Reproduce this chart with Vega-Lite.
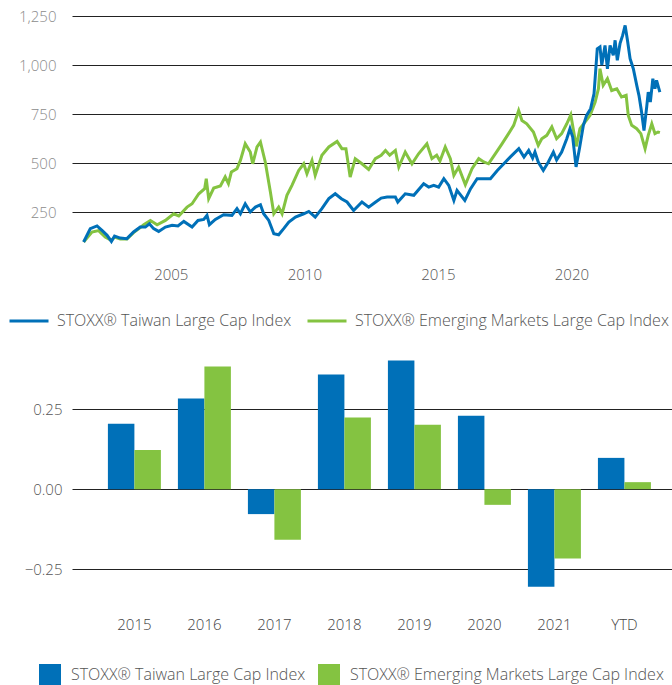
{
  "$schema": "https://vega.github.io/schema/vega-lite/v6.json",
  "autosize": {"type": "pad"},
  "padding": {"left": 0, "top": 9, "right": 0, "bottom": 0},
  "background": "white",
  "bounds": "flush",
  "spacing": 94,
  "resolve": {"scale": {"color": "independent"}, "legend": {"color": "independent"}},
  "config": {
    "view": {"stroke": null},
    "font": "Open Sans",
    "axis": {
      "labelFont": "Open Sans",
      "labelFontSize": 15,
      "labelFontWeight": 300,
      "domain": false,
      "ticks": false,
      "title": null,
      "gridColor": "#222222",
      "gridWidth": 1,
      "gridOpacity": 1
    },
    "legend": {
      "labelFont": "Open Sans",
      "labelFontSize": 16,
      "labelFontWeight": 300,
      "labelColor": "#555555",
      "labelLimit": 400,
      "title": null,
      "padding": 0
    }
  },
  "datasets": {
    "lines": [
      {"date": "2001-09-27", "series": "STOXX® Emerging Markets Large Cap Index", "value": 97},
      {"date": "2002-01-19", "series": "STOXX® Emerging Markets Large Cap Index", "value": 148},
      {"date": "2002-04-20", "series": "STOXX® Emerging Markets Large Cap Index", "value": 155},
      {"date": "2002-07-19", "series": "STOXX® Emerging Markets Large Cap Index", "value": 122},
      {"date": "2002-10-12", "series": "STOXX® Emerging Markets Large Cap Index", "value": 105},
      {"date": "2002-11-24", "series": "STOXX® Emerging Markets Large Cap Index", "value": 122},
      {"date": "2003-02-10", "series": "STOXX® Emerging Markets Large Cap Index", "value": 112},
      {"date": "2003-05-12", "series": "STOXX® Emerging Markets Large Cap Index", "value": 112},
      {"date": "2003-08-11", "series": "STOXX® Emerging Markets Large Cap Index", "value": 145},
      {"date": "2003-11-10", "series": "STOXX® Emerging Markets Large Cap Index", "value": 170},
      {"date": "2003-12-28", "series": "STOXX® Emerging Markets Large Cap Index", "value": 185},
      {"date": "2004-03-28", "series": "STOXX® Emerging Markets Large Cap Index", "value": 207},
      {"date": "2004-06-28", "series": "STOXX® Emerging Markets Large Cap Index", "value": 185},
      {"date": "2004-10-19", "series": "STOXX® Emerging Markets Large Cap Index", "value": 207},
      {"date": "2005-02-10", "series": "STOXX® Emerging Markets Large Cap Index", "value": 241},
      {"date": "2005-04-20", "series": "STOXX® Emerging Markets Large Cap Index", "value": 230},
      {"date": "2005-08-11", "series": "STOXX® Emerging Markets Large Cap Index", "value": 275},
      {"date": "2005-10-19", "series": "STOXX® Emerging Markets Large Cap Index", "value": 292},
      {"date": "2006-01-19", "series": "STOXX® Emerging Markets Large Cap Index", "value": 343},
      {"date": "2006-04-09", "series": "STOXX® Emerging Markets Large Cap Index", "value": 369},
      {"date": "2006-05-01", "series": "STOXX® Emerging Markets Large Cap Index", "value": 420},
      {"date": "2006-06-03", "series": "STOXX® Emerging Markets Large Cap Index", "value": 318},
      {"date": "2006-08-11", "series": "STOXX® Emerging Markets Large Cap Index", "value": 372},
      {"date": "2006-11-10", "series": "STOXX® Emerging Markets Large Cap Index", "value": 383},
      {"date": "2007-01-15", "series": "STOXX® Emerging Markets Large Cap Index", "value": 429},
      {"date": "2007-02-28", "series": "STOXX® Emerging Markets Large Cap Index", "value": 395},
      {"date": "2007-04-09", "series": "STOXX® Emerging Markets Large Cap Index", "value": 454},
      {"date": "2007-06-25", "series": "STOXX® Emerging Markets Large Cap Index", "value": 471},
      {"date": "2007-08-11", "series": "STOXX® Emerging Markets Large Cap Index", "value": 513},
      {"date": "2007-10-16", "series": "STOXX® Emerging Markets Large Cap Index", "value": 598},
      {"date": "2007-12-24", "series": "STOXX® Emerging Markets Large Cap Index", "value": 556},
      {"date": "2008-01-26", "series": "STOXX® Emerging Markets Large Cap Index", "value": 496},
      {"date": "2008-03-25", "series": "STOXX® Emerging Markets Large Cap Index", "value": 582},
      {"date": "2008-05-11", "series": "STOXX® Emerging Markets Large Cap Index", "value": 607},
      {"date": "2008-07-16", "series": "STOXX® Emerging Markets Large Cap Index", "value": 505},
      {"date": "2008-09-24", "series": "STOXX® Emerging Markets Large Cap Index", "value": 352},
      {"date": "2008-11-10", "series": "STOXX® Emerging Markets Large Cap Index", "value": 241},
      {"date": "2009-01-15", "series": "STOXX® Emerging Markets Large Cap Index", "value": 275},
      {"date": "2009-03-03", "series": "STOXX® Emerging Markets Large Cap Index", "value": 241},
      {"date": "2009-05-08", "series": "STOXX® Emerging Markets Large Cap Index", "value": 335},
      {"date": "2009-07-16", "series": "STOXX® Emerging Markets Large Cap Index", "value": 386},
      {"date": "2009-10-16", "series": "STOXX® Emerging Markets Large Cap Index", "value": 462},
      {"date": "2009-12-24", "series": "STOXX® Emerging Markets Large Cap Index", "value": 496},
      {"date": "2010-02-06", "series": "STOXX® Emerging Markets Large Cap Index", "value": 445},
      {"date": "2010-04-16", "series": "STOXX® Emerging Markets Large Cap Index", "value": 513},
      {"date": "2010-05-30", "series": "STOXX® Emerging Markets Large Cap Index", "value": 437},
      {"date": "2010-08-29", "series": "STOXX® Emerging Markets Large Cap Index", "value": 539},
      {"date": "2010-12-02", "series": "STOXX® Emerging Markets Large Cap Index", "value": 582},
      {"date": "2011-03-25", "series": "STOXX® Emerging Markets Large Cap Index", "value": 610},
      {"date": "2011-05-30", "series": "STOXX® Emerging Markets Large Cap Index", "value": 573},
      {"date": "2011-07-24", "series": "STOXX® Emerging Markets Large Cap Index", "value": 573},
      {"date": "2011-09-20", "series": "STOXX® Emerging Markets Large Cap Index", "value": 428},
      {"date": "2011-11-28", "series": "STOXX® Emerging Markets Large Cap Index", "value": 522},
      {"date": "2012-02-28", "series": "STOXX® Emerging Markets Large Cap Index", "value": 496},
      {"date": "2012-05-30", "series": "STOXX® Emerging Markets Large Cap Index", "value": 467},
      {"date": "2012-08-29", "series": "STOXX® Emerging Markets Large Cap Index", "value": 522},
      {"date": "2012-11-17", "series": "STOXX® Emerging Markets Large Cap Index", "value": 539},
      {"date": "2013-01-15", "series": "STOXX® Emerging Markets Large Cap Index", "value": 564},
      {"date": "2013-03-14", "series": "STOXX® Emerging Markets Large Cap Index", "value": 540},
      {"date": "2013-05-30", "series": "STOXX® Emerging Markets Large Cap Index", "value": 564},
      {"date": "2013-07-16", "series": "STOXX® Emerging Markets Large Cap Index", "value": 479},
      {"date": "2013-10-12", "series": "STOXX® Emerging Markets Large Cap Index", "value": 556},
      {"date": "2014-01-12", "series": "STOXX® Emerging Markets Large Cap Index", "value": 496},
      {"date": "2014-04-12", "series": "STOXX® Emerging Markets Large Cap Index", "value": 547},
      {"date": "2014-08-04", "series": "STOXX® Emerging Markets Large Cap Index", "value": 598},
      {"date": "2014-10-12", "series": "STOXX® Emerging Markets Large Cap Index", "value": 522},
      {"date": "2014-12-16", "series": "STOXX® Emerging Markets Large Cap Index", "value": 540},
      {"date": "2015-01-30", "series": "STOXX® Emerging Markets Large Cap Index", "value": 510},
      {"date": "2015-04-12", "series": "STOXX® Emerging Markets Large Cap Index", "value": 582},
      {"date": "2015-06-21", "series": "STOXX® Emerging Markets Large Cap Index", "value": 522},
      {"date": "2015-08-08", "series": "STOXX® Emerging Markets Large Cap Index", "value": 437},
      {"date": "2015-10-12", "series": "STOXX® Emerging Markets Large Cap Index", "value": 479},
      {"date": "2016-01-12", "series": "STOXX® Emerging Markets Large Cap Index", "value": 389},
      {"date": "2016-04-12", "series": "STOXX® Emerging Markets Large Cap Index", "value": 471},
      {"date": "2016-07-13", "series": "STOXX® Emerging Markets Large Cap Index", "value": 522},
      {"date": "2016-09-20", "series": "STOXX® Emerging Markets Large Cap Index", "value": 505},
      {"date": "2016-11-24", "series": "STOXX® Emerging Markets Large Cap Index", "value": 496},
      {"date": "2017-02-24", "series": "STOXX® Emerging Markets Large Cap Index", "value": 547},
      {"date": "2017-05-27", "series": "STOXX® Emerging Markets Large Cap Index", "value": 598},
      {"date": "2017-08-25", "series": "STOXX® Emerging Markets Large Cap Index", "value": 650},
      {"date": "2017-11-03", "series": "STOXX® Emerging Markets Large Cap Index", "value": 692},
      {"date": "2018-01-10", "series": "STOXX® Emerging Markets Large Cap Index", "value": 768},
      {"date": "2018-02-24", "series": "STOXX® Emerging Markets Large Cap Index", "value": 717},
      {"date": "2018-05-01", "series": "STOXX® Emerging Markets Large Cap Index", "value": 700},
      {"date": "2018-07-31", "series": "STOXX® Emerging Markets Large Cap Index", "value": 658},
      {"date": "2018-10-05", "series": "STOXX® Emerging Markets Large Cap Index", "value": 590},
      {"date": "2018-11-22", "series": "STOXX® Emerging Markets Large Cap Index", "value": 624},
      {"date": "2019-01-30", "series": "STOXX® Emerging Markets Large Cap Index", "value": 641},
      {"date": "2019-04-09", "series": "STOXX® Emerging Markets Large Cap Index", "value": 684},
      {"date": "2019-06-13", "series": "STOXX® Emerging Markets Large Cap Index", "value": 624},
      {"date": "2019-08-21", "series": "STOXX® Emerging Markets Large Cap Index", "value": 650},
      {"date": "2019-10-30", "series": "STOXX® Emerging Markets Large Cap Index", "value": 700},
      {"date": "2019-12-24", "series": "STOXX® Emerging Markets Large Cap Index", "value": 746},
      {"date": "2020-01-30", "series": "STOXX® Emerging Markets Large Cap Index", "value": 666},
      {"date": "2020-03-08", "series": "STOXX® Emerging Markets Large Cap Index", "value": 585},
      {"date": "2020-04-27", "series": "STOXX® Emerging Markets Large Cap Index", "value": 675},
      {"date": "2020-07-05", "series": "STOXX® Emerging Markets Large Cap Index", "value": 709},
      {"date": "2020-09-13", "series": "STOXX® Emerging Markets Large Cap Index", "value": 743},
      {"date": "2020-11-21", "series": "STOXX® Emerging Markets Large Cap Index", "value": 811},
      {"date": "2021-01-05", "series": "STOXX® Emerging Markets Large Cap Index", "value": 879},
      {"date": "2021-01-26", "series": "STOXX® Emerging Markets Large Cap Index", "value": 981},
      {"date": "2021-03-11", "series": "STOXX® Emerging Markets Large Cap Index", "value": 896},
      {"date": "2021-05-08", "series": "STOXX® Emerging Markets Large Cap Index", "value": 930},
      {"date": "2021-07-05", "series": "STOXX® Emerging Markets Large Cap Index", "value": 870},
      {"date": "2021-09-13", "series": "STOXX® Emerging Markets Large Cap Index", "value": 879},
      {"date": "2021-11-17", "series": "STOXX® Emerging Markets Large Cap Index", "value": 837},
      {"date": "2022-01-19", "series": "STOXX® Emerging Markets Large Cap Index", "value": 845},
      {"date": "2022-02-17", "series": "STOXX® Emerging Markets Large Cap Index", "value": 743},
      {"date": "2022-04-05", "series": "STOXX® Emerging Markets Large Cap Index", "value": 692},
      {"date": "2022-06-13", "series": "STOXX® Emerging Markets Large Cap Index", "value": 675},
      {"date": "2022-08-08", "series": "STOXX® Emerging Markets Large Cap Index", "value": 650},
      {"date": "2022-10-05", "series": "STOXX® Emerging Markets Large Cap Index", "value": 573},
      {"date": "2022-11-17", "series": "STOXX® Emerging Markets Large Cap Index", "value": 641},
      {"date": "2023-01-05", "series": "STOXX® Emerging Markets Large Cap Index", "value": 700},
      {"date": "2023-02-17", "series": "STOXX® Emerging Markets Large Cap Index", "value": 650},
      {"date": "2023-04-01", "series": "STOXX® Emerging Markets Large Cap Index", "value": 658},
      {"date": "2023-04-25", "series": "STOXX® Emerging Markets Large Cap Index", "value": 655},
      {"date": "2001-09-27", "series": "STOXX® Taiwan Large Cap Index", "value": 97},
      {"date": "2001-12-27", "series": "STOXX® Taiwan Large Cap Index", "value": 165},
      {"date": "2002-03-29", "series": "STOXX® Taiwan Large Cap Index", "value": 179},
      {"date": "2002-06-05", "series": "STOXX® Taiwan Large Cap Index", "value": 156},
      {"date": "2002-08-14", "series": "STOXX® Taiwan Large Cap Index", "value": 131},
      {"date": "2002-10-12", "series": "STOXX® Taiwan Large Cap Index", "value": 100},
      {"date": "2002-11-24", "series": "STOXX® Taiwan Large Cap Index", "value": 127},
      {"date": "2003-02-10", "series": "STOXX® Taiwan Large Cap Index", "value": 117},
      {"date": "2003-05-12", "series": "STOXX® Taiwan Large Cap Index", "value": 114},
      {"date": "2003-08-11", "series": "STOXX® Taiwan Large Cap Index", "value": 148},
      {"date": "2003-11-10", "series": "STOXX® Taiwan Large Cap Index", "value": 173},
      {"date": "2004-01-19", "series": "STOXX® Taiwan Large Cap Index", "value": 173},
      {"date": "2004-03-14", "series": "STOXX® Taiwan Large Cap Index", "value": 190},
      {"date": "2004-05-11", "series": "STOXX® Taiwan Large Cap Index", "value": 165},
      {"date": "2004-07-19", "series": "STOXX® Taiwan Large Cap Index", "value": 151},
      {"date": "2004-10-19", "series": "STOXX® Taiwan Large Cap Index", "value": 173},
      {"date": "2005-01-19", "series": "STOXX® Taiwan Large Cap Index", "value": 182},
      {"date": "2005-04-09", "series": "STOXX® Taiwan Large Cap Index", "value": 179},
      {"date": "2005-06-28", "series": "STOXX® Taiwan Large Cap Index", "value": 202},
      {"date": "2005-10-19", "series": "STOXX® Taiwan Large Cap Index", "value": 173},
      {"date": "2006-01-08", "series": "STOXX® Taiwan Large Cap Index", "value": 207},
      {"date": "2006-03-28", "series": "STOXX® Taiwan Large Cap Index", "value": 212},
      {"date": "2006-05-11", "series": "STOXX® Taiwan Large Cap Index", "value": 233},
      {"date": "2006-06-13", "series": "STOXX® Taiwan Large Cap Index", "value": 185},
      {"date": "2006-09-02", "series": "STOXX® Taiwan Large Cap Index", "value": 212},
      {"date": "2006-12-24", "series": "STOXX® Taiwan Large Cap Index", "value": 236},
      {"date": "2007-04-17", "series": "STOXX® Taiwan Large Cap Index", "value": 233},
      {"date": "2007-06-25", "series": "STOXX® Taiwan Large Cap Index", "value": 267},
      {"date": "2007-08-11", "series": "STOXX® Taiwan Large Cap Index", "value": 241},
      {"date": "2007-10-16", "series": "STOXX® Taiwan Large Cap Index", "value": 292},
      {"date": "2007-12-24", "series": "STOXX® Taiwan Large Cap Index", "value": 250},
      {"date": "2008-03-03", "series": "STOXX® Taiwan Large Cap Index", "value": 275},
      {"date": "2008-05-11", "series": "STOXX® Taiwan Large Cap Index", "value": 287},
      {"date": "2008-06-24", "series": "STOXX® Taiwan Large Cap Index", "value": 241},
      {"date": "2008-09-02", "series": "STOXX® Taiwan Large Cap Index", "value": 207},
      {"date": "2008-11-10", "series": "STOXX® Taiwan Large Cap Index", "value": 139},
      {"date": "2009-01-15", "series": "STOXX® Taiwan Large Cap Index", "value": 134},
      {"date": "2009-03-25", "series": "STOXX® Taiwan Large Cap Index", "value": 165},
      {"date": "2009-06-03", "series": "STOXX® Taiwan Large Cap Index", "value": 199},
      {"date": "2009-09-02", "series": "STOXX® Taiwan Large Cap Index", "value": 224},
      {"date": "2009-12-24", "series": "STOXX® Taiwan Large Cap Index", "value": 241},
      {"date": "2010-03-03", "series": "STOXX® Taiwan Large Cap Index", "value": 253},
      {"date": "2010-05-30", "series": "STOXX® Taiwan Large Cap Index", "value": 224},
      {"date": "2010-08-29", "series": "STOXX® Taiwan Large Cap Index", "value": 267},
      {"date": "2010-12-02", "series": "STOXX® Taiwan Large Cap Index", "value": 318},
      {"date": "2011-02-28", "series": "STOXX® Taiwan Large Cap Index", "value": 343},
      {"date": "2011-05-23", "series": "STOXX® Taiwan Large Cap Index", "value": 318},
      {"date": "2011-08-08", "series": "STOXX® Taiwan Large Cap Index", "value": 301},
      {"date": "2011-11-06", "series": "STOXX® Taiwan Large Cap Index", "value": 258},
      {"date": "2012-02-28", "series": "STOXX® Taiwan Large Cap Index", "value": 301},
      {"date": "2012-05-30", "series": "STOXX® Taiwan Large Cap Index", "value": 275},
      {"date": "2012-08-29", "series": "STOXX® Taiwan Large Cap Index", "value": 300},
      {"date": "2012-11-17", "series": "STOXX® Taiwan Large Cap Index", "value": 321},
      {"date": "2013-02-06", "series": "STOXX® Taiwan Large Cap Index", "value": 326},
      {"date": "2013-05-30", "series": "STOXX® Taiwan Large Cap Index", "value": 326},
      {"date": "2013-07-02", "series": "STOXX® Taiwan Large Cap Index", "value": 301},
      {"date": "2013-10-12", "series": "STOXX® Taiwan Large Cap Index", "value": 343},
      {"date": "2014-02-06", "series": "STOXX® Taiwan Large Cap Index", "value": 335},
      {"date": "2014-06-21", "series": "STOXX® Taiwan Large Cap Index", "value": 394},
      {"date": "2014-08-29", "series": "STOXX® Taiwan Large Cap Index", "value": 377},
      {"date": "2014-11-06", "series": "STOXX® Taiwan Large Cap Index", "value": 386},
      {"date": "2015-01-12", "series": "STOXX® Taiwan Large Cap Index", "value": 377},
      {"date": "2015-03-24", "series": "STOXX® Taiwan Large Cap Index", "value": 420},
      {"date": "2015-05-30", "series": "STOXX® Taiwan Large Cap Index", "value": 386},
      {"date": "2015-08-08", "series": "STOXX® Taiwan Large Cap Index", "value": 309},
      {"date": "2015-09-20", "series": "STOXX® Taiwan Large Cap Index", "value": 360},
      {"date": "2016-01-05", "series": "STOXX® Taiwan Large Cap Index", "value": 309},
      {"date": "2016-03-24", "series": "STOXX® Taiwan Large Cap Index", "value": 369},
      {"date": "2016-06-21", "series": "STOXX® Taiwan Large Cap Index", "value": 420},
      {"date": "2016-09-20", "series": "STOXX® Taiwan Large Cap Index", "value": 420},
      {"date": "2016-12-20", "series": "STOXX® Taiwan Large Cap Index", "value": 420},
      {"date": "2017-03-24", "series": "STOXX® Taiwan Large Cap Index", "value": 462},
      {"date": "2017-06-21", "series": "STOXX® Taiwan Large Cap Index", "value": 496},
      {"date": "2017-09-16", "series": "STOXX® Taiwan Large Cap Index", "value": 530},
      {"date": "2018-01-12", "series": "STOXX® Taiwan Large Cap Index", "value": 573},
      {"date": "2018-03-24", "series": "STOXX® Taiwan Large Cap Index", "value": 530},
      {"date": "2018-05-27", "series": "STOXX® Taiwan Large Cap Index", "value": 564},
      {"date": "2018-07-20", "series": "STOXX® Taiwan Large Cap Index", "value": 525},
      {"date": "2018-08-21", "series": "STOXX® Taiwan Large Cap Index", "value": 556},
      {"date": "2018-10-05", "series": "STOXX® Taiwan Large Cap Index", "value": 505},
      {"date": "2018-12-13", "series": "STOXX® Taiwan Large Cap Index", "value": 462},
      {"date": "2019-02-20", "series": "STOXX® Taiwan Large Cap Index", "value": 505},
      {"date": "2019-04-30", "series": "STOXX® Taiwan Large Cap Index", "value": 556},
      {"date": "2019-06-13", "series": "STOXX® Taiwan Large Cap Index", "value": 515},
      {"date": "2019-08-21", "series": "STOXX® Taiwan Large Cap Index", "value": 556},
      {"date": "2019-10-30", "series": "STOXX® Taiwan Large Cap Index", "value": 624},
      {"date": "2019-12-13", "series": "STOXX® Taiwan Large Cap Index", "value": 675},
      {"date": "2020-01-19", "series": "STOXX® Taiwan Large Cap Index", "value": 632},
      {"date": "2020-03-05", "series": "STOXX® Taiwan Large Cap Index", "value": 480},
      {"date": "2020-04-20", "series": "STOXX® Taiwan Large Cap Index", "value": 573},
      {"date": "2020-06-13", "series": "STOXX® Taiwan Large Cap Index", "value": 692},
      {"date": "2020-07-27", "series": "STOXX® Taiwan Large Cap Index", "value": 743},
      {"date": "2020-09-20", "series": "STOXX® Taiwan Large Cap Index", "value": 777},
      {"date": "2020-11-06", "series": "STOXX® Taiwan Large Cap Index", "value": 854},
      {"date": "2020-12-20", "series": "STOXX® Taiwan Large Cap Index", "value": 1083},
      {"date": "2021-01-26", "series": "STOXX® Taiwan Large Cap Index", "value": 1092},
      {"date": "2021-02-20", "series": "STOXX® Taiwan Large Cap Index", "value": 1000},
      {"date": "2021-04-05", "series": "STOXX® Taiwan Large Cap Index", "value": 1100},
      {"date": "2021-05-08", "series": "STOXX® Taiwan Large Cap Index", "value": 981},
      {"date": "2021-06-13", "series": "STOXX® Taiwan Large Cap Index", "value": 1100},
      {"date": "2021-07-27", "series": "STOXX® Taiwan Large Cap Index", "value": 1049},
      {"date": "2021-08-21", "series": "STOXX® Taiwan Large Cap Index", "value": 1126},
      {"date": "2021-09-20", "series": "STOXX® Taiwan Large Cap Index", "value": 1024},
      {"date": "2021-10-27", "series": "STOXX® Taiwan Large Cap Index", "value": 1109},
      {"date": "2021-12-02", "series": "STOXX® Taiwan Large Cap Index", "value": 1151},
      {"date": "2022-01-05", "series": "STOXX® Taiwan Large Cap Index", "value": 1202},
      {"date": "2022-02-06", "series": "STOXX® Taiwan Large Cap Index", "value": 1126},
      {"date": "2022-03-14", "series": "STOXX® Taiwan Large Cap Index", "value": 1032},
      {"date": "2022-04-27", "series": "STOXX® Taiwan Large Cap Index", "value": 981},
      {"date": "2022-06-13", "series": "STOXX® Taiwan Large Cap Index", "value": 896},
      {"date": "2022-07-13", "series": "STOXX® Taiwan Large Cap Index", "value": 845},
      {"date": "2022-08-18", "series": "STOXX® Taiwan Large Cap Index", "value": 760},
      {"date": "2022-09-20", "series": "STOXX® Taiwan Large Cap Index", "value": 666},
      {"date": "2022-10-27", "series": "STOXX® Taiwan Large Cap Index", "value": 786},
      {"date": "2022-11-17", "series": "STOXX® Taiwan Large Cap Index", "value": 862},
      {"date": "2022-12-16", "series": "STOXX® Taiwan Large Cap Index", "value": 811},
      {"date": "2023-01-19", "series": "STOXX® Taiwan Large Cap Index", "value": 930},
      {"date": "2023-02-17", "series": "STOXX® Taiwan Large Cap Index", "value": 879},
      {"date": "2023-03-11", "series": "STOXX® Taiwan Large Cap Index", "value": 922},
      {"date": "2023-04-25", "series": "STOXX® Taiwan Large Cap Index", "value": 862}
    ],
    "bars": [
      {"period": "2015", "series": "STOXX® Taiwan Large Cap Index", "ret": 0.205},
      {"period": "2015", "series": "STOXX® Emerging Markets Large Cap Index", "ret": 0.123},
      {"period": "2016", "series": "STOXX® Taiwan Large Cap Index", "ret": 0.284},
      {"period": "2016", "series": "STOXX® Emerging Markets Large Cap Index", "ret": 0.384},
      {"period": "2017", "series": "STOXX® Taiwan Large Cap Index", "ret": -0.078},
      {"period": "2017", "series": "STOXX® Emerging Markets Large Cap Index", "ret": -0.158},
      {"period": "2018", "series": "STOXX® Taiwan Large Cap Index", "ret": 0.359},
      {"period": "2018", "series": "STOXX® Emerging Markets Large Cap Index", "ret": 0.224},
      {"period": "2019", "series": "STOXX® Taiwan Large Cap Index", "ret": 0.403},
      {"period": "2019", "series": "STOXX® Emerging Markets Large Cap Index", "ret": 0.202},
      {"period": "2020", "series": "STOXX® Taiwan Large Cap Index", "ret": 0.23},
      {"period": "2020", "series": "STOXX® Emerging Markets Large Cap Index", "ret": -0.049},
      {"period": "2021", "series": "STOXX® Taiwan Large Cap Index", "ret": -0.305},
      {"period": "2021", "series": "STOXX® Emerging Markets Large Cap Index", "ret": -0.217},
      {"period": "YTD", "series": "STOXX® Taiwan Large Cap Index", "ret": 0.098},
      {"period": "YTD", "series": "STOXX® Emerging Markets Large Cap Index", "ret": 0.022}
    ]
  },
  "vconcat": [
    {
      "width": 600,
      "height": 245,
      "data": {"name": "lines"},
      "mark": {"type": "line", "strokeWidth": 3, "interpolate": "linear"},
      "encoding": {
        "x": {
          "field": "date",
          "type": "temporal",
          "scale": {"domain": [{"year": 2001, "month": 4, "date": 21}, {"year": 2023, "month": 10, "date": 8}]},
          "axis": {
            "values": [{"year": 2005}, {"year": 2010}, {"year": 2015}, {"year": 2020}],
            "format": "%Y",
            "grid": false,
            "labelColor": "#555555",
            "labelPadding": 6
          }
        },
        "y": {
          "field": "value",
          "type": "quantitative",
          "scale": {"domain": [0, 1250]},
          "axis": {
            "values": [250, 500, 750, 1000, 1250],
            "format": ",.0f",
            "grid": true,
            "labelColor": "#8c8c8c",
            "labelPadding": 16,
            "minExtent": 72,
            "maxExtent": 72
          }
        },
        "color": {
          "field": "series",
          "type": "nominal",
          "scale": {
            "domain": ["STOXX® Taiwan Large Cap Index", "STOXX® Emerging Markets Large Cap Index"],
            "range": ["#0070b8", "#84c341"]
          },
          "legend": {
            "orient": "none",
            "legendX": -64,
            "legendY": 284,
            "direction": "horizontal",
            "symbolType": "stroke",
            "symbolSize": 1521,
            "symbolStrokeWidth": 3,
            "labelOffset": 7,
            "columnPadding": 9
          }
        }
      }
    },
    {
      "width": 600,
      "height": 254,
      "data": {"name": "bars"},
      "mark": {"type": "bar"},
      "encoding": {
        "x": {
          "field": "period",
          "type": "nominal",
          "sort": ["2015", "2016", "2017", "2018", "2019", "2020", "2021", "YTD"],
          "scale": {"paddingInner": 0.243, "paddingOuter": 0.407, "align": 0.63},
          "axis": {"labelAngle": 0, "grid": false, "labelColor": "#444444", "labelPadding": 8}
        },
        "xOffset": {
          "field": "series",
          "type": "nominal",
          "sort": ["STOXX® Taiwan Large Cap Index", "STOXX® Emerging Markets Large Cap Index"]
        },
        "y": {
          "field": "ret",
          "type": "quantitative",
          "scale": {"domain": [-0.375, 0.42], "nice": false},
          "axis": {
            "values": [-0.25, 0, 0.25],
            "format": ".2f",
            "grid": true,
            "labelColor": "#555555",
            "labelPadding": 10,
            "minExtent": 72,
            "maxExtent": 72
          }
        },
        "color": {
          "field": "series",
          "type": "nominal",
          "scale": {
            "domain": ["STOXX® Taiwan Large Cap Index", "STOXX® Emerging Markets Large Cap Index"],
            "range": ["#0070b8", "#84c341"]
          },
          "legend": {
            "orient": "none",
            "legendX": -33,
            "legendY": 309,
            "direction": "horizontal",
            "symbolType": "square",
            "symbolSize": 484,
            "symbolStrokeWidth": 0,
            "symbolOpacity": 1,
            "labelOffset": 10,
            "columnPadding": 12
          }
        }
      }
    }
  ]
}
